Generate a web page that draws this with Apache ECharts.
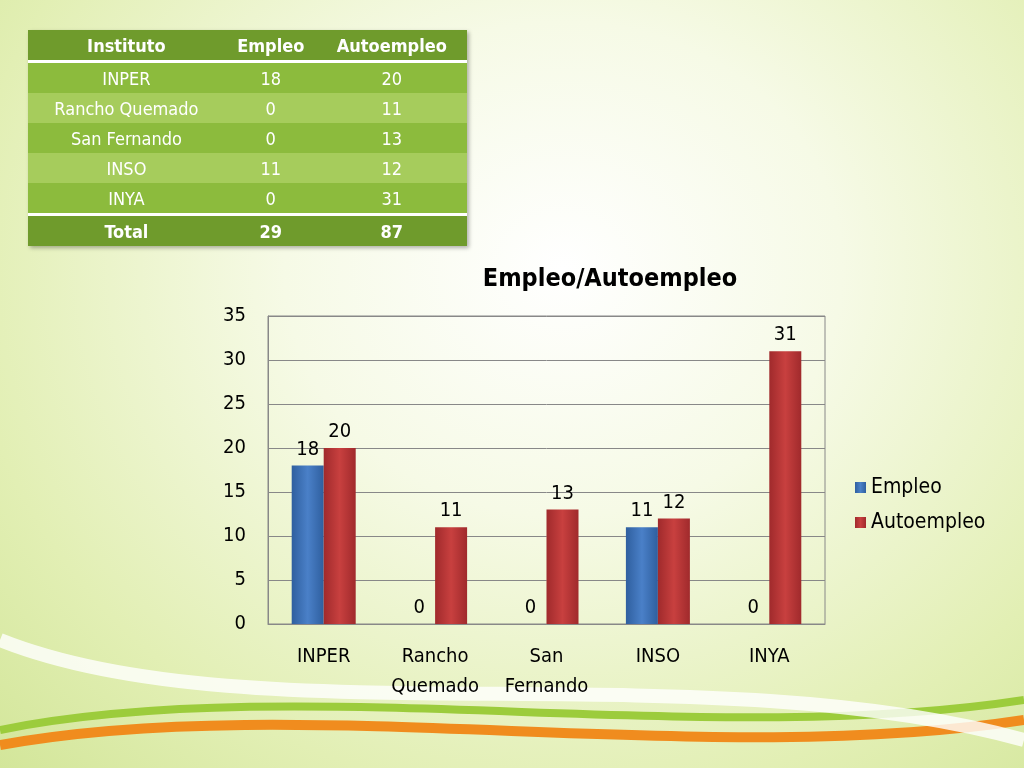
<!DOCTYPE html>
<html>
<head>
<meta charset="utf-8">
<script src="https://cdn.jsdelivr.net/npm/echarts@6/dist/echarts.min.js"></script>
<style>
  body { margin: 0; }
  #wrap { position: relative; width: 1024px; height: 768px; overflow: hidden;
    background: radial-gradient(ellipse at 55% 35%, #ffffff 0%, #f6fae6 35%, #e2efb4 75%, #d3e69a 100%); }
  #chart { position: absolute; left: 0; top: 0; width: 1024px; height: 768px; }
  #tbl { position: absolute; left: 28px; top: 30px; width: 439px; border-collapse: collapse;
    font-family: "DejaVu Sans Condensed", sans-serif; font-size: 18px; color: #fff;
    box-shadow: 2px 2px 4px rgba(0,0,0,0.3); }
  #tbl td, #tbl th { height: 30px; padding: 0; text-align: center; }
  #tbl th { background: #6f9b2c; font-weight: bold; border-bottom: 3px solid #fff; }
  #tbl tr.odd td { background: #8cbb3d; }
  #tbl tr.even td { background: #a6cc5c; }
  #tbl tr.total td { background: #6f9b2c; font-weight: bold; border-top: 3px solid #fff; }
</style>
</head>
<body>
<div id="wrap">
  <div id="chart"></div>
  <table id="tbl"></table>
</div>
<script>
const headers = ['Instituto', 'Empleo', 'Autoempleo'];
const institutos = ['INPER', 'Rancho Quemado', 'San Fernando', 'INSO', 'INYA'];
const axisLabels = ['INPER', 'Rancho\nQuemado', 'San\nFernando', 'INSO', 'INYA'];
const empleo = [18, 0, 0, 11, 0];
const autoempleo = [20, 11, 13, 12, 31];

// table
let html = '<tr>' + headers.map(h => '<th>' + h + '</th>').join('') + '</tr>';
institutos.forEach((n, i) => {
  html += '<tr class="' + (i % 2 ? 'even' : 'odd') + '"><td>' + n + '</td><td>' + empleo[i] + '</td><td>' + autoempleo[i] + '</td></tr>';
});
const sum = a => a.reduce((s, v) => s + v, 0);
html += '<tr class="total"><td>Total</td><td>' + sum(empleo) + '</td><td>' + sum(autoempleo) + '</td></tr>';
document.getElementById('tbl').innerHTML = html;

const font = '"DejaVu Sans Condensed", sans-serif';
var mychart = echarts.init(document.getElementById('chart'));
const option = {
  title: { text: 'Empleo/Autoempleo', left: 605, top: 262, textAlign: 'center',
    textStyle: { fontFamily: font, fontSize: 25, fontWeight: 'bold', color: '#000' } },
  legend: { orient: 'vertical', left: 850, top: 472, itemWidth: 11, itemHeight: 11, itemGap: 14, icon: 'rect',
    textStyle: { fontFamily: font, fontSize: 21, color: '#000' } },
  grid: { left: 268, top: 316, width: 557, height: 308, show: true, borderColor: '#888', borderWidth: 1 },
  xAxis: { type: 'category', data: axisLabels,
    axisLine: { lineStyle: { color: '#888' } }, axisTick: { show: false },
    axisLabel: { fontFamily: font, fontSize: 20, color: '#000', lineHeight: 30, margin: 18, interval: 0 } },
  yAxis: { type: 'value', min: 0, max: 35, interval: 5,
    axisLine: { show: true, lineStyle: { color: '#888' } },
    splitLine: { lineStyle: { color: '#888' } },
    axisLabel: { fontFamily: font, fontSize: 20, color: '#000', margin: 22 } },
  series: [
    { name: 'Empleo', type: 'bar', data: empleo, barWidth: 32, barGap: '0%',
      itemStyle: { color: new echarts.graphic.LinearGradient(0, 0, 1, 0, [
        { offset: 0, color: '#2f5f9f' }, { offset: 0.5, color: '#4a80c8' }, { offset: 1, color: '#2f5f9f' }]) },
      label: { show: true, position: 'top', fontFamily: font, fontSize: 20, color: '#000', distance: 6 } },
    { name: 'Autoempleo', type: 'bar', data: autoempleo, barWidth: 32,
      itemStyle: { color: new echarts.graphic.LinearGradient(0, 0, 1, 0, [
        { offset: 0, color: '#a02a2c' }, { offset: 0.5, color: '#c8403f' }, { offset: 1, color: '#a02a2c' }]) },
      label: { show: true, position: 'top', fontFamily: font, fontSize: 20, color: '#000', distance: 6 } }
  ],
  graphic: [
    { type: 'bezierCurve', shape: { x1: 0, y1: 745, x2: 1024, y2: 720, cpx1: 300, cpy1: 690, cpx2: 700, cpy2: 770 },
      style: { stroke: '#f08c1e', lineWidth: 10, fill: null }, z: -1 },
    { type: 'bezierCurve', shape: { x1: 0, y1: 730, x2: 1024, y2: 700, cpx1: 300, cpy1: 670, cpx2: 700, cpy2: 750 },
      style: { stroke: '#9ccc3c', lineWidth: 8, fill: null }, z: -1 },
    { type: 'bezierCurve', shape: { x1: 0, y1: 640, x2: 1024, y2: 740, cpx1: 250, cpy1: 740, cpx2: 700, cpy2: 650 },
      style: { stroke: '#ffffff', lineWidth: 14, fill: null, opacity: 0.8 }, z: -1 }
  ]
};
mychart.setOption(option);
</script>
</body>
</html>
